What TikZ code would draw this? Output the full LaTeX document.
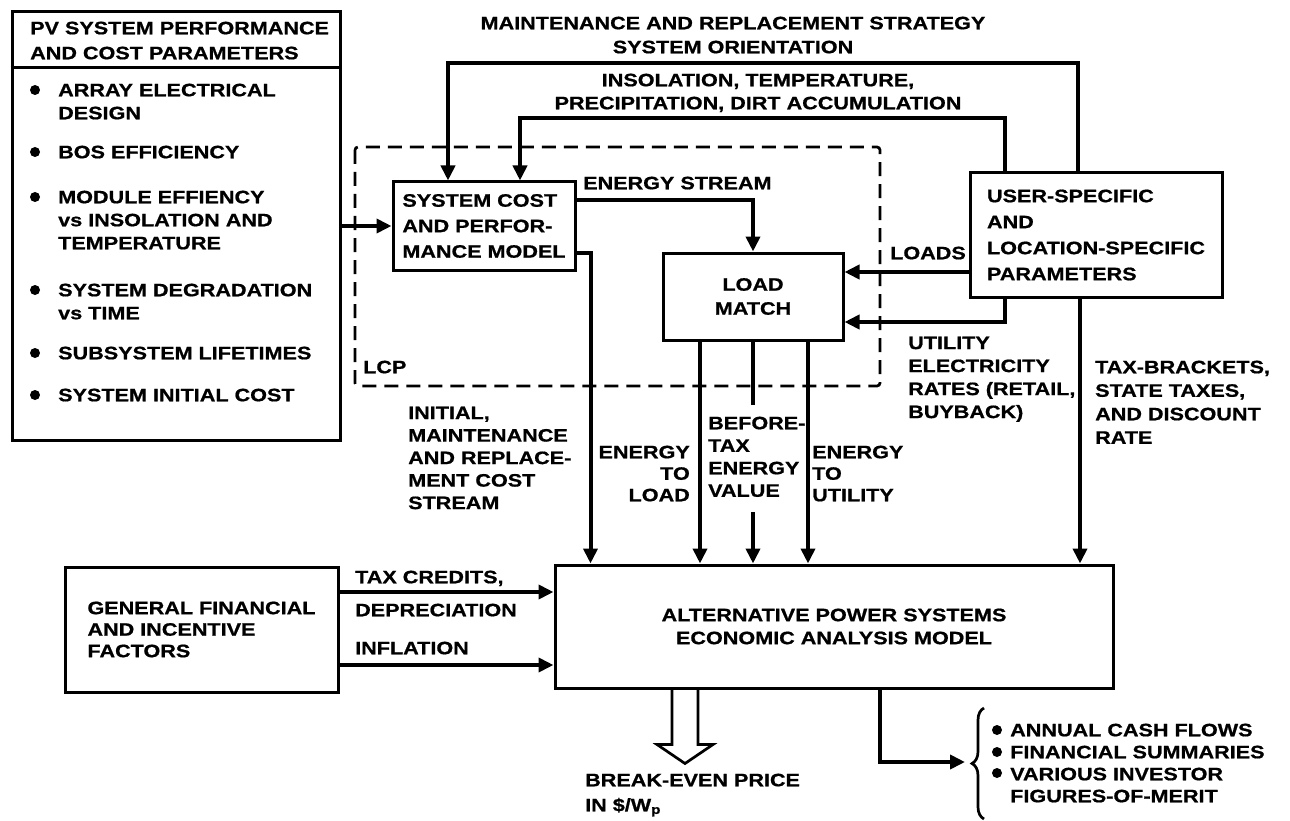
\documentclass[tikz,border=0pt]{standalone}
\usepackage{fontspec}
\setmainfont{Liberation Sans}[FakeStretch=1.2, BoldFeatures={FakeBold=0.8}]
\usetikzlibrary{arrows.meta,decorations.pathreplacing}

\tikzset{
  box/.style={draw, line width=3pt, inner sep=0pt, font=\bfseries\fontsize{18}{22}\selectfont},
  lbl/.style={inner sep=0pt, anchor=north west, align=left, font=\bfseries\fontsize{18}{22}\selectfont},
  arr/.style={line width=4pt, -{Triangle[length=15pt,width=14pt]}},
  flow/.style={line width=4pt},
}

\begin{document}
\begin{tikzpicture}[x=1pt, y=-1pt]
\useasboundingbox (0,0) rectangle (1290,821);

% LCP 虚线框
\draw[line width=2.7pt, dash pattern=on 14pt off 8pt, rounded corners=3pt] (355,147) rectangle (880,386);
\node[lbl] (lcp) at (363,360.5) {LCP};

% 方框
\node[box, minimum width=328pt, minimum height=428pt] (pv) at (176,226) {};
\draw[line width=3pt] (pv.west |- 0,68) -- (pv.east |- 0,68);
\node[box, minimum width=182pt, minimum height=88pt, align=left,
      font=\bfseries\fontsize{18}{25.5}\selectfont] (sys) at (484,226) {SYSTEM COST\\AND PERFOR-\\MANCE MODEL};
\node[box, minimum width=180pt, minimum height=87pt, align=center,
      font=\bfseries\fontsize{18}{24}\selectfont] (lm) at (753,296.5) {LOAD\\MATCH};
\node[box, minimum width=252pt, minimum height=124pt, align=left,
      font=\bfseries\fontsize{18}{26}\selectfont] (usr) at (1096,235) {USER-SPECIFIC\\AND\\LOCATION-SPECIFIC\\PARAMETERS};
\node[box, minimum width=558pt, minimum height=123pt, align=center,
      font=\bfseries\fontsize{18}{23}\selectfont] (aps) at (834,626.5) {ALTERNATIVE POWER SYSTEMS\\ECONOMIC ANALYSIS MODEL};
\node[box, minimum width=273pt, minimum height=125pt, align=left,
      font=\bfseries\fontsize{18}{21.5}\selectfont] (gf) at (201.5,629.5) {GENERAL FINANCIAL\\AND INCENTIVE\\FACTORS};

% PV 参数列表
\node[lbl, font=\bfseries\fontsize{18}{25}\selectfont] (pvhead) at (30,21.5) {PV SYSTEM PERFORMANCE\\AND COST PARAMETERS};
\foreach \yy in {90,152,197,290,353,395} {
    \fill (35,\yy) circle (5);
}
\foreach \yy/\txt [count=\i] in {83.5/{ARRAY ELECTRICAL\\DESIGN}, 145.5/{BOS EFFICIENCY},
    190.5/{MODULE EFFIENCY\\vs INSOLATION AND\\TEMPERATURE}, 283.5/{SYSTEM DEGRADATION\\vs TIME},
    346.5/{SUBSYSTEM LIFETIMES}, 388.5/{SYSTEM INITIAL COST}} {
    \node[lbl, font=\bfseries\fontsize{18}{23}\selectfont] (item\i) at (58,\yy) {\txt};
}

% 顶部两条输入线
\draw[arr] ([xshift=-18pt]usr.north) -- ++(0,-108) -| ([xshift=-36pt]sys.north);
\draw[arr] ([xshift=-91pt]usr.north) -- ++(0,-53) -| ([xshift=36pt]sys.north);
\node[lbl, anchor=north, align=center, font=\bfseries\fontsize{18}{24}\selectfont] (strat) at (733,16.5)
    {MAINTENANCE AND REPLACEMENT STRATEGY\\SYSTEM ORIENTATION};
\node[lbl, anchor=north, align=center, font=\bfseries\fontsize{18}{23}\selectfont] (weather) at (758,73.5)
    {INSOLATION, TEMPERATURE,\\PRECIPITATION, DIRT ACCUMULATION};

% PV 参数 -> 系统模型
\draw[arr] (pv.east) -- (sys.west);

% 能量流
\draw[arr] ([yshift=26pt]sys.east) -| (lm.north);
\node[lbl] (estream) at (583,176.5) {ENERGY STREAM};

% 负荷与电价
\coordinate (ld) at ([yshift=-37pt]usr.west);
\draw[arr] (ld) -- (ld -| lm.east);
\node[lbl] (loads) at (890,246.5) {LOADS};
\draw[arr] ([xshift=-91pt]usr.south) |- ([yshift=-25.5pt]lm.east);
\node[lbl, font=\bfseries\fontsize{18}{23}\selectfont] (rates) at (908,336.5) {UTILITY\\ELECTRICITY\\RATES (RETAIL,\\BUYBACK)};

% 税率
\coordinate (tx) at ([xshift=-16pt]usr.south);
\draw[arr] (tx) -- (tx |- aps.north);
\node[lbl, font=\bfseries\fontsize{18}{23.5}\selectfont] (taxes) at (1095,360.5) {TAX-BRACKETS,\\STATE TAXES,\\AND DISCOUNT\\RATE};

% 成本流
\draw[arr] ([yshift=-27pt]sys.east) -| ([xshift=37pt]aps.north west);
\node[lbl, font=\bfseries\fontsize{18}{22.5}\selectfont] (cost) at (408,406.5) {INITIAL,\\MAINTENANCE\\AND REPLACE-\\MENT COST\\STREAM};

% LOAD MATCH 的三个输出
\foreach \dx/\nm in {-53/el, 55/eu} {
    \coordinate (\nm) at ([xshift=\dx pt]lm.south);
    \draw[arr] (\nm) -- (\nm |- aps.north);
}
\draw[flow] (lm.south) -- ++(0,63);
\draw[arr] (lm.south |- 0,512) -- (lm.south |- aps.north);
\node[lbl, anchor=north east, align=right, font=\bfseries\fontsize{18}{21.5}\selectfont] (toload) at (690,445.5) {ENERGY\\TO\\LOAD};
\node[lbl, font=\bfseries\fontsize{18}{22.5}\selectfont] (value) at (708,416.5) {BEFORE-\\TAX\\ENERGY\\VALUE};
\node[lbl, font=\bfseries\fontsize{18}{21.5}\selectfont] (toutil) at (812,445.5) {ENERGY\\TO\\UTILITY};

% 财务因素
\coordinate (tc) at ([yshift=37.5pt]gf.east);
\draw[arr] (tc) -- (tc -| aps.west);
\coordinate (inf) at ([yshift=-35.5pt]gf.east);
\draw[arr] (inf) -- (inf -| aps.west);
\node[lbl] (credits) at (355,570.5) {TAX CREDITS,};
\node[lbl] (depr) at (355,603.5) {DEPRECIATION};
\node[lbl] (infl) at (355,641.5) {INFLATION};

% 盈亏平衡价格 (空心箭头)
\draw[line width=2.7pt, line join=miter] ([xshift=-162pt]aps.south) -- ++(0,55) -- ++(-15,0)
    -- ++(28,19) -- ++(28,-19) -- ++(-15,0) -- ++(0,-55);
\node[lbl, font=\bfseries\fontsize{18}{25}\selectfont] (price) at (585,773.5) {BREAK-EVEN PRICE\\IN \$/W\textsubscript{p}};

% 结果列表
\coordinate (out) at (965,762);
\draw[arr] ([xshift=46pt]aps.south) |- (out);
\draw[line width=2.7pt, decorate, decoration={brace, amplitude=12pt}] (984,819) -- (984,708);
\foreach \yy in {730,752,773} {
    \fill (997,\yy) circle (5);
}
\node[lbl] (res) at (1010,723.5) {ANNUAL CASH FLOWS\\FINANCIAL SUMMARIES\\VARIOUS INVESTOR\\FIGURES-OF-MERIT};
\end{tikzpicture}
\end{document}
